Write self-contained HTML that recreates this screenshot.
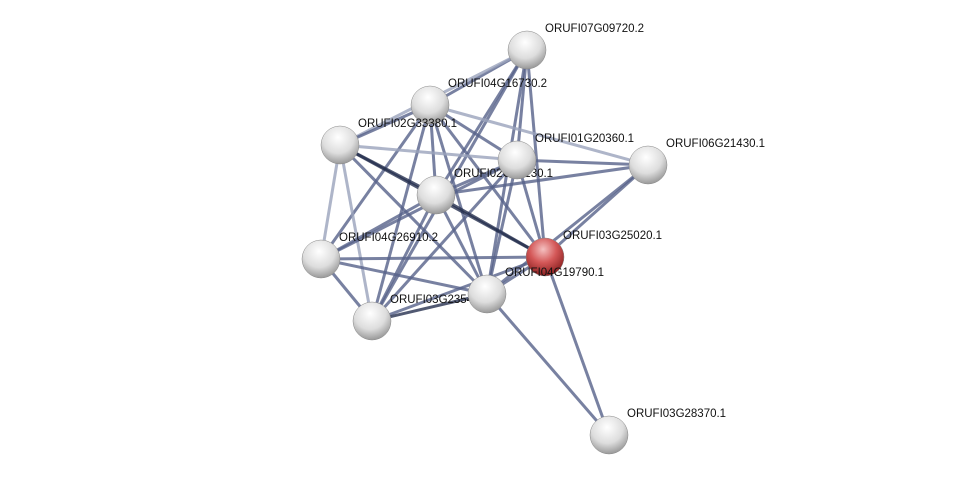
<!DOCTYPE html><html><head><style>body{margin:0;background:#fff}svg text{font-family:"Liberation Sans",sans-serif;font-size:11.5px;fill:#111}</style></head><body>
<svg width="976" height="480" xmlns="http://www.w3.org/2000/svg">
<defs><radialGradient id="g" cx="45%" cy="30%" r="70%"><stop offset="0" stop-color="#fff"/><stop offset=".6" stop-color="#ddd"/><stop offset="1" stop-color="#999"/></radialGradient>
<radialGradient id="r" cx="45%" cy="30%" r="70%"><stop offset="0" stop-color="#f4c0c0"/><stop offset=".5" stop-color="#d45858"/><stop offset="1" stop-color="#8a2020"/></radialGradient></defs>
<g stroke="#56618a" stroke-width="3" stroke-opacity=".8" fill="none" id="e"></g>
<g id="n"></g>
</svg>
<script>
var N={A:[527,50],B:[430,105],C:[340,145],D:[517,160],E:[648,165],F:[436,195],G:[545,257],H:[321,259],I:[487,294],J:[372,321],K:[609,435]};
var E="AB AC AD AF AG AI AJ BC BD BE BF BG BI BJ BH CD CF CG CH CI CJ DE DF DG DI DH DJ EF EG EI FG FH FI FJ GH GI GJ HI HJ IJ IK GK".split(" ");
var dark={CG:1,FG:1,CF:1,HG:1,IJ:1};var light={CH:1,CJ:1,BE:1,AC:1,CD:1};
var s="";E.forEach(function(k){var a=N[k[0]],b=N[k[1]];var c=dark[k]?"#26304f":light[k]?"#9aa2bb":"#56618a";s+='<line x1="'+a[0]+'" y1="'+a[1]+'" x2="'+b[0]+'" y2="'+b[1]+'" stroke="'+c+'"/>';});
document.getElementById("e").innerHTML=s;
var L={A:"ORUFI07G09720.2",B:"ORUFI04G16730.2",C:"ORUFI02G33380.1",D:"ORUFI01G20360.1",E:"ORUFI06G21430.1",F:"ORUFI02G24130.1",G:"ORUFI03G25020.1",H:"ORUFI04G26910.2",I:"ORUFI04G19790.1",J:"ORUFI03G23540.1",K:"ORUFI03G28370.1"};
function lab(k){var p=N[k];return '<text x="'+(p[0]+18)+'" y="'+(p[1]-18)+'">'+L[k]+'</text>';}
var t=lab("F")+lab("J");
"FDABCEGHJIK".split("").forEach(function(k){var p=N[k];t+='<circle cx="'+p[0]+'" cy="'+p[1]+'" r="19" fill="url(#'+(k=="G"?"r":"g")+')" stroke="#888" stroke-width=".5"/>';});
"ABCDEGHIK".split("").forEach(function(k){t+=lab(k);});
document.getElementById("n").innerHTML=t;
</script>
</body></html>
